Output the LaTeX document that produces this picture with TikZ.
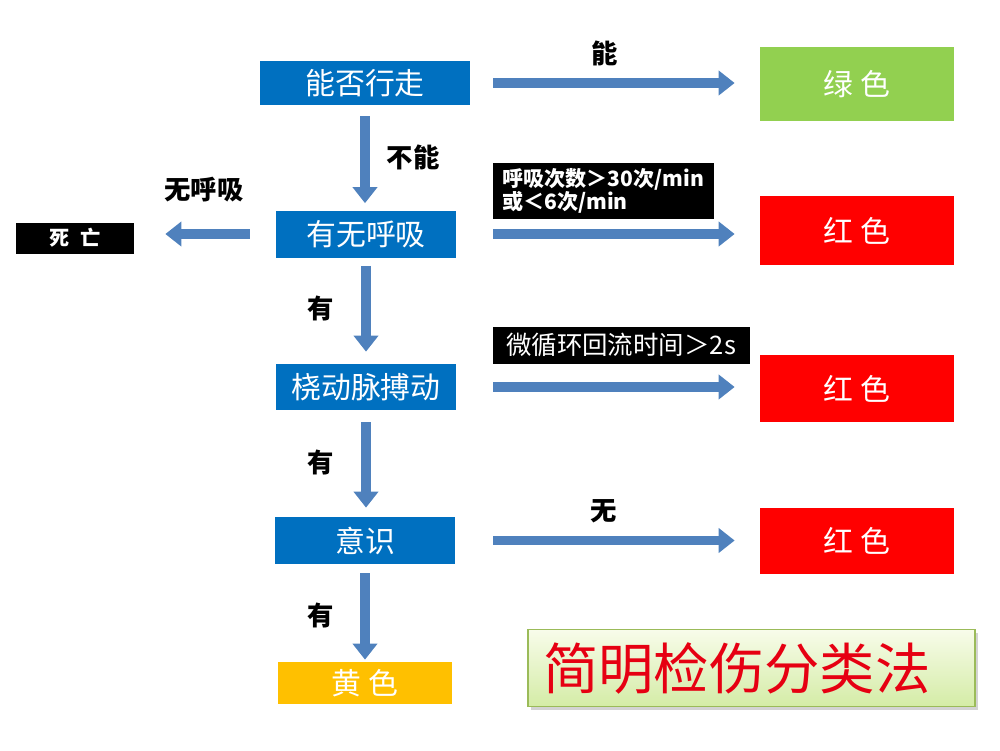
\documentclass[tikz,border=0pt]{standalone}
\usepackage{fontspec}
\setmainfont{Noto Sans CJK SC}
\usetikzlibrary{arrows.meta,positioning,calc,shadows}

\definecolor{stepblue}{RGB}{0,112,192}
\definecolor{arrowblue}{RGB}{79,129,189}
\definecolor{okgreen}{RGB}{146,208,80}
\definecolor{alarmred}{RGB}{255,0,0}
\definecolor{waityellow}{RGB}{255,192,0}
\definecolor{titletop}{RGB}{248,252,234}
\definecolor{titlebottom}{RGB}{212,236,166}
\definecolor{titleedge}{RGB}{155,187,89}
\definecolor{titlered}{RGB}{230,0,18}

\begin{document}
\begin{tikzpicture}[>=Latex, every node/.style={inner sep=2pt}]
\tikzstyle{box}=[fill=stepblue,text=white,minimum width=3.6cm,minimum height=0.94cm,font=\fontsize{17}{19}\selectfont]
\tikzstyle{result}=[text=white,minimum width=3.88cm,minimum height=1.36cm,font=\fontsize{17}{19}\selectfont]
\tikzstyle{note}=[fill=black,text=white,align=left,inner sep=3pt]
\tikzstyle{lbl}=[font=\bfseries\fontsize{15}{17}\selectfont]
\tikzstyle{flow}=[draw=arrowblue,line width=0.19cm,-{Triangle[width=0.48cm,length=0.32cm]}]
\useasboundingbox (0,0) rectangle (20,-15);

% decision column
\node[box,minimum width=4.2cm,minimum height=0.88cm] (walk) at (7.30,-1.66) {能否行走};
\node[box] (breath) at (7.32,-4.68) {有无呼吸};
\node[box,minimum height=0.92cm] (pulse) at (7.32,-7.74) {桡动脉搏动};
\node[box] (mind) at (7.30,-10.81) {意识};
\node[result,fill=waityellow,minimum width=3.48cm,minimum height=0.84cm] (yellow) at (7.30,-13.66) {黄 色};

% results
\node[result,fill=okgreen,minimum height=1.48cm] (green) at (17.14,-1.68) {绿 色};
\node[result,fill=alarmred,minimum height=1.38cm] (redA) at (17.14,-4.61) {红 色};
\node[result,fill=alarmred,minimum height=1.34cm] (redB) at (17.14,-7.77) {红 色};
\node[result,fill=alarmred,minimum height=1.32cm] (redC) at (17.14,-10.82) {红 色};
\node[fill=black,text=white,minimum width=2.36cm,minimum height=0.62cm,font=\bfseries\fontsize{11.5}{13}\selectfont] (dead) at (1.50,-4.76) {死\enspace 亡};

% conditions
\node[note,minimum width=4.42cm,minimum height=1.12cm,font=\bfseries\fontsize{12}{12.5}\selectfont] (rate) at (12.06,-3.82) {呼吸次数＞30次/min\\或＜6次/min};
\node[note,minimum width=5.14cm,minimum height=0.74cm,inner sep=1pt,font=\fontsize{14.5}{16}\selectfont] (refill) at (12.42,-6.90) {微循环回流时间＞2s};

% branch labels
\node[lbl] (canlbl) at (12.10,-1.06) {能};
\node[lbl] (cannotlbl) at (8.26,-3.14) {不能};
\node[lbl] (nobreathlbl) at (4.08,-3.80) {无呼吸};
\node[lbl] (hasA) at (6.42,-6.16) {有};
\node[lbl] (hasB) at (6.42,-9.24) {有};
\node[lbl] (hasC) at (6.42,-12.30) {有};
\node[lbl] (nonelbl) at (12.08,-10.22) {无};

% title
\node[draw=titleedge,line width=0.8pt,top color=titletop,bottom color=titlebottom,drop shadow={opacity=0.35,shadow xshift=0.06cm,shadow yshift=-0.06cm},minimum width=8.94cm,minimum height=1.54cm,inner xsep=0.3cm,text width=8.34cm,align=left,text=titlered,font=\fontsize{31.5}{33}\selectfont] (title) at (15.03,-13.36) {简明检伤分类法};

% arrows down
\draw[flow,shorten <=0.22cm,shorten >=0.14cm] (walk.south) -- (walk.south |- breath.north);
\draw[flow,shorten <=0.16cm,shorten >=0.24cm] (breath.south) -- (breath.south |- pulse.north);
\draw[flow,shorten <=0.24cm,shorten >=0.18cm] (pulse.south) -- (pulse.south |- mind.north);
\draw[flow,shorten <=0.18cm,shorten >=0.04cm] (mind.south) -- (mind.south |- yellow.north);

% arrows right
\draw[flow,shorten <=0.46cm,shorten >=0.50cm] (walk.east) -- (walk.east -| green.west);
\draw[flow,shorten <=0.74cm,shorten >=0.50cm] (breath.east) -- (breath.east -| redA.west);
\draw[flow,shorten <=0.74cm,shorten >=0.50cm] (pulse.east) -- (pulse.east -| redB.west);
\draw[flow,shorten <=0.76cm,shorten >=0.50cm] (mind.east) -- (mind.east -| redC.west);

% arrow left
\draw[flow,shorten <=0.52cm,shorten >=0.62cm] (breath.west) -- (breath.west -| dead.east);
\end{tikzpicture}
\end{document}
